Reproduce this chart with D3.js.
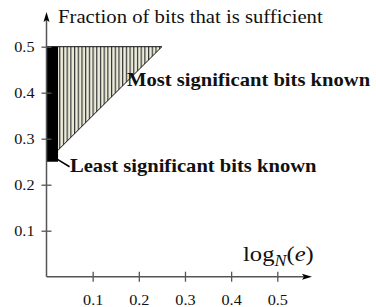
<!DOCTYPE html>
<html>
<head>
<meta charset="utf-8">
<script src="https://cdn.jsdelivr.net/npm/d3@7"></script>
<style>
  body { margin: 0; background: #fff; }
  svg { display: block; }
  svg text { font-family: "Liberation Serif", "DejaVu Serif", serif !important; fill: #111; }
</style>
</head>
<body>
<div id="chart"></div>
<script>
// Data
const xTicks = [0.1, 0.2, 0.3, 0.4, 0.5]
const yTicks = [0.1, 0.2, 0.3, 0.4, 0.5]
// region where the most significant bits suffice (hatched)
const msbRegion = [[0, 0.25], [0.25, 0.5], [0, 0.5]]
// region where the least significant bits suffice (black bar)
const lsbRegion = [[0, 0.25], [0.025, 0.25], [0.025, 0.5], [0, 0.5]]
const labels = ['Most significant bits known', 'Least significant bits known']
const yTitle = 'Fraction of bits that is sufficient'

const width = 376, height = 307
const stretch = 1.12   // the original figure is a bit wider than tall

const svg = d3.select('#chart')
  .append('svg')
  .attr('width', width)
  .attr('height', height)
  .attr('font-family', '"Liberation Serif", serif')

const xScale = d3.scaleLinear().domain([0, 0.5]).range([46.5, 277.3])
const yScale = d3.scaleLinear().domain([0, 0.5]).range([276.7, 46.7])

const defs = svg.append('defs')
const pat = defs.append('pattern')
  .attr('id', 'hatch')
  .attr('patternUnits', 'userSpaceOnUse')
  .attr('width', 3.7)
  .attr('height', 10)
pat.append('rect').attr('width', 3.7).attr('height', 10).attr('fill', '#ececdc')
pat.append('line')
  .attr('x1', 0.6).attr('x2', 0.6).attr('y1', 0).attr('y2', 10)
  .attr('stroke', '#333').attr('stroke-width', 1.2)

const line = d3.line().x(d => xScale(d[0])).y(d => yScale(d[1]))

// hatched triangle
svg.append('path')
  .attr('d', line(msbRegion) + 'Z')
  .attr('fill', 'url(#hatch)')
  .attr('stroke', '#111')
  .attr('stroke-width', 1)

// black bar
svg.append('path')
  .attr('d', line(lsbRegion) + 'Z')
  .attr('fill', '#000')

// axes
const axisColor = '#555'
const xAxisGroup = svg.append('g')
  .attr('transform', `translate(0, ${yScale(0)})`)
  .call(d3.axisBottom(xScale).tickValues(xTicks).tickSize(0).tickFormat(d3.format('.1f')))
xAxisGroup.select('.domain').remove()
xAxisGroup.selectAll('.tick line').remove()
xAxisGroup.selectAll('.tick').append('line')
  .attr('y1', -5).attr('y2', 5)
  .attr('stroke', axisColor).attr('stroke-width', 1.3)
xAxisGroup.selectAll('.tick text')
  .attr('y', 0).attr('dy', null)
  .attr('transform', `translate(0, 28.5) scale(${stretch}, 1)`)
  .style('font-size', '14.5px')
  .attr('fill', '#111')

const yAxisGroup = svg.append('g')
  .attr('transform', `translate(${xScale(0)}, 0)`)
  .call(d3.axisLeft(yScale).tickValues(yTicks).tickSize(0).tickFormat(d3.format('.1f')))
yAxisGroup.select('.domain').remove()
yAxisGroup.selectAll('.tick line').remove()
yAxisGroup.selectAll('.tick').append('line')
  .attr('x1', -5).attr('x2', 5)
  .attr('stroke', axisColor).attr('stroke-width', 1.3)
yAxisGroup.selectAll('.tick text')
  .attr('x', 0).attr('dy', null)
  .attr('transform', `translate(-12, 5) scale(${stretch}, 1)`)
  .style('font-size', '14.5px')
  .attr('fill', '#111')

// axis lines with arrows
svg.append('line')
  .attr('x1', xScale(0)).attr('x2', 305)
  .attr('y1', yScale(0)).attr('y2', yScale(0))
  .attr('stroke', axisColor).attr('stroke-width', 1.5)
svg.append('path')
  .attr('d', `M312,${yScale(0)} L302,${yScale(0) - 3} L304,${yScale(0)} L302,${yScale(0) + 3} Z`)
  .attr('fill', '#000')

svg.append('line')
  .attr('x1', xScale(0)).attr('x2', xScale(0))
  .attr('y1', yScale(0)).attr('y2', 20)
  .attr('stroke', axisColor).attr('stroke-width', 1.5)
svg.append('path')
  .attr('d', `M${xScale(0)},12 L${xScale(0) - 3},22 L${xScale(0)},20 L${xScale(0) + 3},22 Z`)
  .attr('fill', '#000')

// titles
svg.append('text')
  .attr('transform', `translate(58, 23) scale(${stretch}, 1)`)
  .style('font-size', '18.5px')
  .text(yTitle)

const xt = svg.append('text')
  .attr('transform', `translate(243, 261) scale(${stretch}, 1)`)
  .style('font-size', '22px')
xt.append('tspan').text('log')
xt.append('tspan').attr('dy', 5).style('font-size', '16px').style('font-style', 'italic').text('N')
xt.append('tspan').attr('dy', -5).text('(')
xt.append('tspan').style('font-style', 'italic').text('e')
xt.append('tspan').text(')')

// annotations
svg.append('text')
  .attr('transform', `translate(127, 86) scale(${stretch}, 1)`)
  .style('font-size', '18.4px').style('font-weight', 'bold')
  .text(labels[0])

svg.append('line')
  .attr('x1', xScale(0.022)).attr('y1', yScale(0.256))
  .attr('x2', xScale(0.05)).attr('y2', yScale(0.239))
  .attr('stroke', '#000').attr('stroke-width', 1.5)

svg.append('text')
  .attr('transform', `translate(70, 172) scale(${stretch}, 1)`)
  .style('font-size', '18.4px').style('font-weight', 'bold')
  .text(labels[1])
</script>
</body>
</html>
